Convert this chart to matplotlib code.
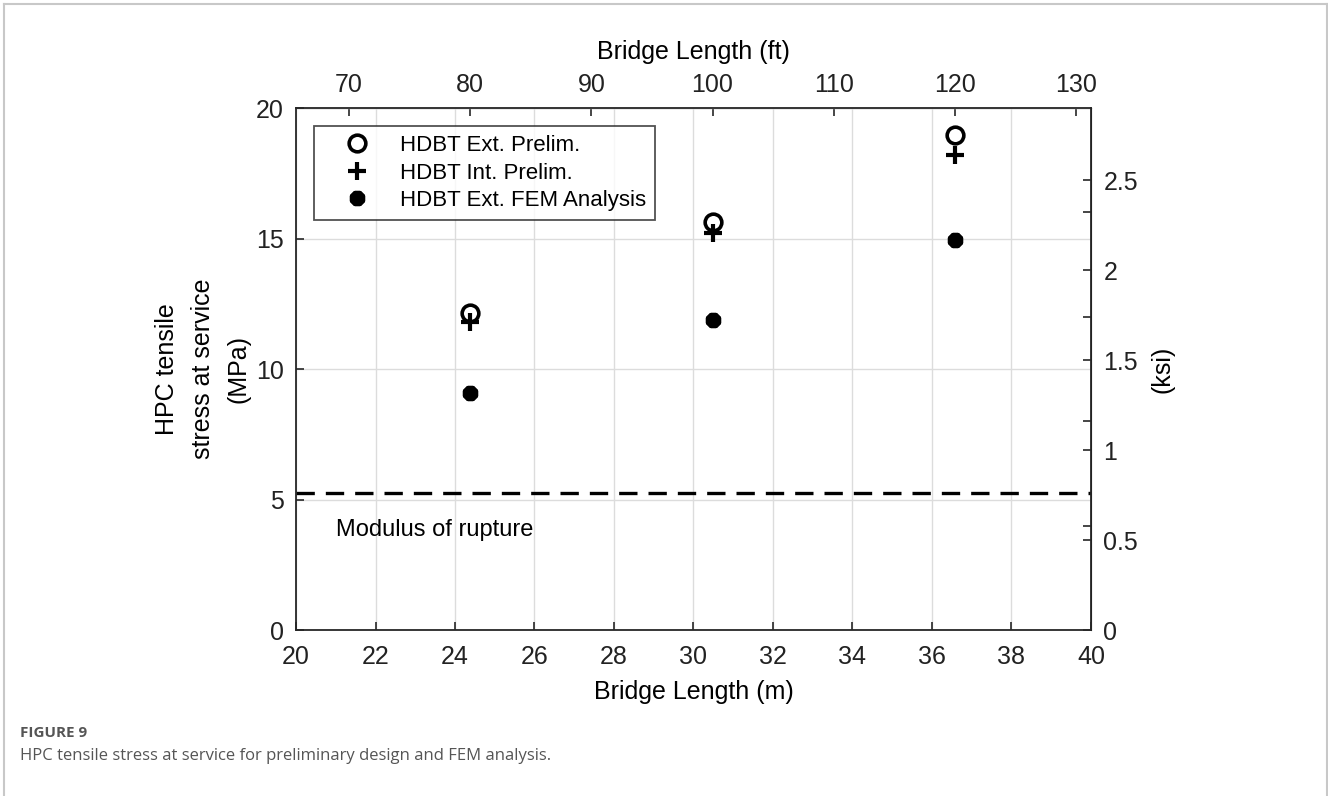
import numpy as np
import matplotlib.pyplot as plt

plt.rcParams['font.family'] = ['Liberation Sans', 'DejaVu Sans']

# bridge lengths in metres (80, 100, 120 ft)
length_m = [24.384, 30.48, 36.576]
ext_prelim = [12.15, 15.63, 18.97]
int_prelim = [11.80, 15.20, 18.20]
ext_fem = [9.08, 11.88, 14.94]
rupture = 5.24

M_TO_FT = 3.28084
MPA_TO_KSI = 0.145038

fig = plt.figure(figsize=(13.28, 7.96), dpi=100)
ax = fig.add_axes([0.2229, 0.2085, 0.8215 - 0.2229, 0.8643 - 0.2085])

dark = '#262626'
ax.grid(True, color='#dcdcdc', linewidth=1.0)
ax.set_axisbelow(True)

ax.plot(length_m, ext_prelim, linestyle='none', marker='o', markersize=12,
        markerfacecolor='none', markeredgecolor='black', markeredgewidth=2.6,
        label='HDBT Ext. Prelim.')
ax.plot(length_m, int_prelim, linestyle='none', marker='+', markersize=13,
        color='black', markeredgewidth=3.0, label='HDBT Int. Prelim.')
ax.plot(length_m, ext_fem, linestyle='none', marker=(8, 2, 0), markersize=11,
        color='black', markeredgewidth=4.0, label='HDBT Ext. FEM Analysis')

ax.axhline(rupture, color='black', linewidth=2.4, dashes=(5.5, 3.3))
ax.text(21.0, 3.85, 'Modulus of rupture', fontsize=17, va='center', ha='left')

ax.set_xlim(20, 40)
ax.set_ylim(0, 20)
ax.set_xticks(np.arange(20, 41, 2))
ax.set_yticks(np.arange(0, 21, 5))
ax.tick_params(direction='in', length=6, width=1.2, labelsize=18, colors=dark,
               labelcolor='#222222', top=False, right=False)
ax.tick_params(axis='x', pad=11)
ax.tick_params(axis='y', pad=9)
# stray ticks left over on the opposite spines
ax.set_yticks([4, 8, 12, 16], minor=True)
ax.set_xticks([36], minor=True)
ax.tick_params(which='minor', direction='in', length=6, width=1.2, colors=dark,
               left=False, bottom=False, right=True, top=True,
               labelleft=False, labelbottom=False)
for s in ax.spines.values():
    s.set_color(dark)
    s.set_linewidth(1.3)

ax.set_xlabel('Bridge Length (m)', fontsize=18, labelpad=8)
ax.set_ylabel('HPC tensile\nstress at service\n(MPa)', fontsize=18, labelpad=4,
              linespacing=1.6)

top = ax.secondary_xaxis('top', functions=(lambda x: x * M_TO_FT, lambda x: x / M_TO_FT))
top.set_xticks(np.arange(70, 131, 10))
top.tick_params(direction='in', length=6, width=1.2, labelsize=18, colors=dark,
                labelcolor='#222222', pad=8)
top.set_xlabel('Bridge Length (ft)', fontsize=18, labelpad=10)

right = ax.secondary_yaxis('right', functions=(lambda y: y * MPA_TO_KSI, lambda y: y / MPA_TO_KSI))
right.set_yticks([0, 0.5, 1, 1.5, 2, 2.5])
right.set_yticklabels(['0', '0.5', '1', '1.5', '2', '2.5'])
right.tick_params(direction='in', length=6, width=1.2, labelsize=18, colors=dark,
                  labelcolor='#222222', pad=9)
right.set_ylabel('(ksi)', fontsize=18, labelpad=9)

leg = ax.legend(loc='upper left', bbox_to_anchor=(0.0226, 0.9655), borderaxespad=0,
                fontsize=16, frameon=True, fancybox=False, edgecolor=dark,
                borderpad=0.4, handletextpad=0.4, labelspacing=0.3, handlelength=3.07)
leg.get_frame().set_linewidth(1.3)

# caption under the chart
fig.text(0.015, 0.074, 'FIGURE 9', fontsize=11, fontweight='bold', color='#555555',
         family=['Open Sans', 'DejaVu Sans'])
fig.text(0.015, 0.045, 'HPC tensile stress at service for preliminary design and FEM analysis.',
         fontsize=12, color='#555555', family=['Open Sans', 'DejaVu Sans'])

# light frame around the figure
frame_color = '#c8c8c8'
fig.add_artist(plt.Line2D([0.003, 0.003], [0, 0.995], color=frame_color, linewidth=1.5))
fig.add_artist(plt.Line2D([0.003, 0.999], [0.995, 0.995], color=frame_color, linewidth=1.5))
fig.add_artist(plt.Line2D([0.999, 0.999], [0, 0.995], color=frame_color, linewidth=1.5))

fig.savefig('out.png', dpi=100)
